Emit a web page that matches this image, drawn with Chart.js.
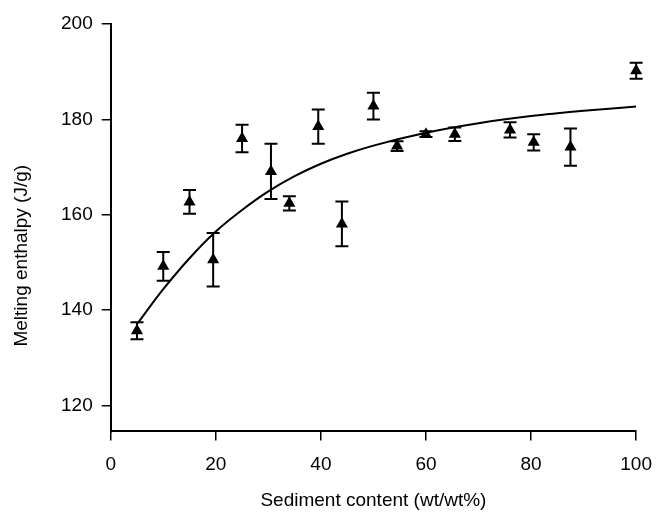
<!DOCTYPE html>
<html>
<head>
<meta charset="utf-8">
<script src="https://cdn.jsdelivr.net/npm/chart.js@4"></script>
<style>
  html, body { margin: 0; padding: 0; background: #fff; }
  #wrap { width: 665px; height: 513px; }
</style>
</head>
<body>
<div id="wrap"><canvas id="grafico"></canvas></div>
<script>
// Dados
const teorSedimento = [5, 10, 15, 19.5, 25, 30.5, 34, 39.5, 44, 50, 54.5, 60, 65.5, 76, 80.5, 87.5, 100];
const entalpia = [135.7, 149.2, 162.7, 150.6, 176.0, 169.1, 162.4, 178.5, 158.1, 182.8, 174.4, 176.9, 176.9, 177.8, 175.2, 174.2, 190.2];
const erro = [1.8, 3.0, 2.5, 5.6, 2.9, 5.8, 1.5, 3.6, 4.7, 2.8, 1.0, 0.6, 1.4, 1.6, 1.7, 3.9, 1.7];

// Curva ajustada
const curvaX = [5, 10, 15, 20, 25, 30, 35, 40, 45, 50, 60, 70, 80, 90, 100];
const curvaY = [137.1, 144.4, 150.9, 156.5, 161.0, 164.9, 168.1, 170.7, 172.8, 174.5, 177.2, 179.2, 180.7, 181.8, 182.7];

const ticksX = [0, 20, 40, 60, 80, 100];
const ticksY = [120, 140, 160, 180, 200];

const tituloY = 'Melting enthalpy (J/g)';
const fonte = "'Liberation Sans', Arial, sans-serif";

// Barras de erro (desenhadas antes dos triângulos)
const barrasErro = {
  id: 'barrasErro',
  beforeDatasetDraw(chart, args) {
    if (args.index !== 1) return;
    const { ctx, scales: { x, y } } = chart;
    ctx.save();
    ctx.strokeStyle = '#000';
    ctx.lineWidth = 2;
    teorSedimento.forEach((v, i) => {
      const px = x.getPixelForValue(v);
      const top = y.getPixelForValue(entalpia[i] + erro[i]);
      const bot = y.getPixelForValue(entalpia[i] - erro[i]);
      ctx.beginPath();
      ctx.moveTo(px, top); ctx.lineTo(px, bot);
      ctx.moveTo(px - 6.5, top); ctx.lineTo(px + 6.5, top);
      ctx.moveTo(px - 6.5, bot); ctx.lineTo(px + 6.5, bot);
      ctx.stroke();
    });
    ctx.restore();
  }
};

// Título do eixo y, um pouco abaixo do centro como no original
const tituloEixoY = {
  id: 'tituloEixoY',
  afterDraw(chart) {
    const { ctx, chartArea } = chart;
    const cy = (chartArea.top + chartArea.bottom) / 2 + 28;
    ctx.save();
    ctx.translate(22, cy);
    ctx.rotate(-Math.PI / 2);
    ctx.fillStyle = '#000';
    ctx.font = '19px ' + fonte;
    ctx.textAlign = 'center';
    ctx.textBaseline = 'middle';
    ctx.fillText(tituloY, 0, 0);
    ctx.restore();
  }
};

const ctx = document.getElementById('grafico').getContext('2d');
new Chart(ctx, {
  type: 'scatter',
  data: {
    datasets: [
      {
        type: 'line',
        data: curvaX.map((v, i) => ({ x: v, y: curvaY[i] })),
        borderColor: '#000',
        borderWidth: 2,
        pointRadius: 0,
        cubicInterpolationMode: 'monotone',
        fill: false
      },
      {
        data: teorSedimento.map((v, i) => ({ x: v, y: entalpia[i] })),
        pointStyle: 'triangle',
        pointRadius: 7,
        pointHoverRadius: 7,
        backgroundColor: '#000',
        borderColor: '#000',
        borderWidth: 0,
        clip: false
      }
    ]
  },
  options: {
    responsive: true,
    maintainAspectRatio: false,
    animation: false,
    events: [],
    layout: { padding: { top: 24, right: 20, left: 52, bottom: 1 } },
    plugins: { legend: { display: false }, tooltip: { enabled: false } },
    scales: {
      x: {
        type: 'linear',
        min: 0, max: 100,
        afterBuildTicks: (s) => { s.ticks = ticksX.map(v => ({ value: v })); },
        border: { display: true, color: '#000', width: 2 },
        grid: { drawOnChartArea: false, drawTicks: true, tickLength: 9, color: '#000', lineWidth: 1.5 },
        ticks: { color: '#000', font: { family: fonte, size: 19 }, padding: 13, maxRotation: 0 },
        title: { display: true, text: 'Sediment content (wt/wt%)', color: '#000', font: { family: fonte, size: 19 }, padding: { top: 0, bottom: 0 } }
      },
      y: {
        type: 'linear',
        min: 114.6, max: 200,
        afterBuildTicks: (s) => { s.ticks = ticksY.map(v => ({ value: v })); },
        border: { display: true, color: '#000', width: 2 },
        grid: { drawOnChartArea: false, drawTicks: true, tickLength: 9, color: '#000', lineWidth: 1.5 },
        ticks: { color: '#000', font: { family: fonte, size: 19 }, padding: 9 },
        title: { display: false }
      }
    }
  },
  plugins: [barrasErro, tituloEixoY]
});
</script>
</body>
</html>
